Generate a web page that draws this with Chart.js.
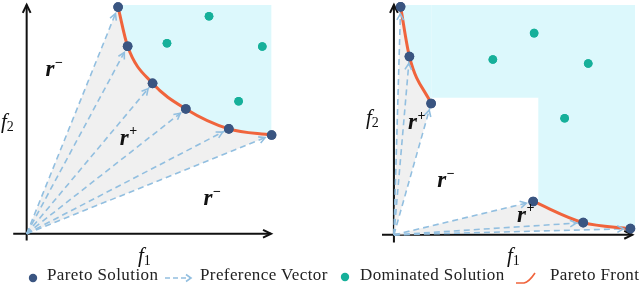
<!DOCTYPE html>
<html>
<head>
<meta charset="utf-8">
<script src="https://cdn.jsdelivr.net/npm/chart.js@4/dist/chart.umd.min.js"></script>
<style>
  body { margin: 0; width: 640px; height: 284px; position: relative; overflow: hidden; background: #fff; font-family: 'Liberation Serif', serif; }
  canvas { position: absolute; top: 0; }
  .lbl { position: absolute; font-style: italic; font-size: 21px; color: #111; line-height: 20px; }
  .lbl sub { font-style: normal; font-size: 14px; vertical-align: -3px; }
  .leg { position: absolute; top: 266px; font-size: 17px; line-height: 18px; color: #222; white-space: nowrap; letter-spacing: 0.4px; }
  svg.sym { position: absolute; }
</style>
</head>
<body>
<canvas id="leftPanel" width="290" height="250" style="left:0"></canvas>
<canvas id="rightPanel" width="270" height="250" style="left:370px"></canvas>

<div class="lbl" style="left:1px;top:111px">f<sub>2</sub></div>
<div class="lbl" style="left:138px;top:245px">f<sub>1</sub></div>
<div class="lbl" style="left:366px;top:107px">f<sub>2</sub></div>
<div class="lbl" style="left:507px;top:245px">f<sub>1</sub></div>

<svg class="sym" style="left:28px;top:273px" width="10" height="10"><circle cx="5" cy="5" r="4.2" fill="#3a5581"/></svg>
<span class="leg" style="left:47px">Pareto Solution</span>
<svg class="sym" style="left:164px;top:272px" width="30" height="12">
  <line x1="1" y1="6" x2="26" y2="6" stroke="#92bfe0" stroke-width="1.6" stroke-dasharray="5,3"/>
  <polyline points="22,2.5 27,6 22,9.5" fill="none" stroke="#92bfe0" stroke-width="1.6"/>
</svg>
<span class="leg" style="left:200px">Preference Vector</span>
<svg class="sym" style="left:340px;top:272px" width="10" height="10"><circle cx="5" cy="5" r="4.2" fill="#16b09a"/></svg>
<span class="leg" style="left:360px">Dominated Solution</span>
<svg class="sym" style="left:515px;top:269px" width="22" height="16"><path d="M1 14 L9 14 Q14 13 20 4" fill="none" stroke="#f0643c" stroke-width="1.6"/></svg>
<span class="leg" style="left:550px">Pareto Front</span>

<script>
// Values (abstract objective units, 0..10 on each axis)

// left panel: convex front
const leftFront = [[3.74, 9.90], [4.13, 8.19], [5.15, 6.57], [6.51, 5.45], [8.27, 4.58], [10.02, 4.31]];
const leftDominated = [[7.46, 9.50], [5.74, 8.32], [9.64, 8.18], [8.67, 5.79]];
const leftRegionLabels = [[0.95, 7.06, '−'], [3.99, 4.07, '+'], [7.42, 1.42, '−']];

// right panel: front split in two pieces
const rightFrontTop = [[0.28, 9.91], [0.65, 7.75], [1.56, 5.71]];
const rightFrontBottom = [[5.84, 1.45], [7.94, 0.53], [9.92, 0.27]];
const rightDominated = [[5.88, 8.77], [4.15, 7.62], [8.15, 7.45], [7.16, 5.07]];
const rightShelf = [[1.56, 5.96], [10.12, 5.96]];
const rightTail = [[6.05, 1.38], [7.94, 0.53], [9.92, 0.27], [10.12, 0.26]];
const rightRegionLabels = [[0.78, 4.77, '+'], [2.01, 2.23, '−'], [5.35, 0.74, '+']];

const origin = [0, 0];

const NAVY = '#3a5581', TEAL = '#16b09a', ORANGE = '#f0643c';
const CYAN = '#dcf8fc', GREY = '#f0f0f0', VEC = '#92bfe0';

const pts = arr => arr.map(([x, y]) => ({ x, y }));

function chevron(ctx, x, y, ang, len, spread) {
  ctx.beginPath();
  ctx.moveTo(x - len * Math.cos(ang - spread), y - len * Math.sin(ang - spread));
  ctx.lineTo(x, y);
  ctx.lineTo(x - len * Math.cos(ang + spread), y - len * Math.sin(ang + spread));
  ctx.stroke();
}

function cyanSet(arr) {
  return { data: pts(arr), fill: 'end', backgroundColor: CYAN, borderWidth: 0, pointRadius: 0,
           cubicInterpolationMode: 'monotone', order: 4 };
}
function fanSet(arr) {
  return { data: pts([origin, ...arr, origin]), fill: 'shape', backgroundColor: GREY, borderWidth: 0,
           pointRadius: 0, tension: 0, order: 5 };
}
function vectorSets(arr) {
  return arr.map(p => ({ data: pts([origin, p]), borderColor: VEC, borderWidth: 1.6, borderDash: [6, 4],
                         pointRadius: 0, fill: false, tension: 0, order: 3 }));
}
function frontSet(arr) {
  return { data: pts(arr), borderColor: ORANGE, borderWidth: 3, pointRadius: 0, fill: false,
           cubicInterpolationMode: 'monotone', order: 2 };
}
function dotSet(arr, color, r, order) {
  return { data: pts(arr), showLine: false, pointRadius: r, pointBackgroundColor: color,
           pointBorderWidth: 0, order: order };
}

function makePanel(id, cfg) {
  const decor = {
    id: 'decor',
    beforeDatasetsDraw(chart) {
      const { ctx, scales: { x, y } } = chart;
      ctx.save();
      ctx.strokeStyle = '#111';
      ctx.lineWidth = 2;
      const ox = x.getPixelForValue(0), oy = y.getPixelForValue(0);
      const xe = x.getPixelForValue(cfg.axisEnd), ye = y.getPixelForValue(cfg.axisEnd);
      ctx.beginPath();
      ctx.moveTo(x.getPixelForValue(cfg.axisStart[0]), oy); ctx.lineTo(xe, oy);
      ctx.moveTo(ox, y.getPixelForValue(cfg.axisStart[1])); ctx.lineTo(ox, ye);
      ctx.stroke();
      chevron(ctx, xe, oy, 0, 9, 0.45);
      chevron(ctx, ox, ye, -Math.PI / 2, 9, 0.45);
      ctx.restore();
    },
    afterDatasetsDraw(chart) {
      const { ctx, scales: { x, y } } = chart;
      ctx.save();
      ctx.strokeStyle = VEC;
      ctx.lineWidth = 1.6;
      const ox = x.getPixelForValue(0), oy = y.getPixelForValue(0);
      cfg.vectors.forEach(([vx, vy]) => {
        const px = x.getPixelForValue(vx), py = y.getPixelForValue(vy);
        const ang = Math.atan2(py - oy, px - ox);
        chevron(ctx, px - 7 * Math.cos(ang), py - 7 * Math.sin(ang), ang, 7, 0.5);
      });
      ctx.restore();
      // redraw dots above the arrow heads
      chart.getSortedVisibleDatasetMetas().forEach(m => {
        if (m.order <= 1) m.controller.draw();
      });
      ctx.save();
      ctx.fillStyle = '#111';
      ctx.textBaseline = 'middle';
      cfg.labels.forEach(([lx, ly, sign]) => {
        const px = x.getPixelForValue(lx), py = y.getPixelForValue(ly);
        ctx.font = "bold italic 23px 'Liberation Serif'";
        ctx.textAlign = 'center';
        ctx.fillText('r', px, py - 2);
        ctx.font = "bold 14px 'Liberation Serif'";
        ctx.textAlign = 'left';
        ctx.fillText(sign, px + 5, py - 9);
      });
      ctx.restore();
    }
  };

  return new Chart(document.getElementById(id), {
    type: 'line',
    data: { datasets: cfg.datasets },
    options: {
      responsive: false,
      animation: false,
      devicePixelRatio: 1,
      layout: { padding: cfg.padding },
      plugins: { legend: { display: false }, tooltip: { enabled: false } },
      elements: { point: { hoverRadius: 0 } },
      datasets: { line: { clip: false } },
      scales: {
        x: { type: 'linear', display: false, min: cfg.xRange[0], max: cfg.xRange[1] },
        y: { type: 'linear', display: false, min: cfg.yRange[0], max: cfg.yRange[1] }
      }
    },
    plugins: [decor]
  });
}

makePanel('leftPanel', {
  xRange: [-0.6, 10.2], yRange: [-0.5, 10],
  padding: { left: 12, right: 14, top: 2, bottom: 2 },
  axisStart: [-0.55, -0.3], axisEnd: 10,
  vectors: leftFront,
  labels: leftRegionLabels,
  datasets: [
    dotSet(leftFront, NAVY, 4.8, 0),
    dotSet(leftDominated, TEAL, 4.3, 1),
    frontSet(leftFront),
    ...vectorSets(leftFront),
    cyanSet(leftFront),
    fanSet(leftFront)
  ]
});

makePanel('rightPanel', {
  xRange: [-0.5, 10.12], yRange: [-0.45, 10],
  padding: { left: 12, right: 0, top: 2, bottom: 2 },
  axisStart: [-0.5, -0.33], axisEnd: 10,
  vectors: [...rightFrontTop, ...rightFrontBottom],
  labels: rightRegionLabels,
  datasets: [
    dotSet([...rightFrontTop, ...rightFrontBottom], NAVY, 4.8, 0),
    dotSet(rightDominated, TEAL, 4.3, 1),
    frontSet(rightFrontTop),
    frontSet(rightFrontBottom),
    ...vectorSets([...rightFrontTop, ...rightFrontBottom]),
    cyanSet(rightFrontTop),
    cyanSet(rightShelf),
    cyanSet(rightTail),
    fanSet(rightFrontTop),
    fanSet(rightFrontBottom)
  ]
});
</script>
</body>
</html>
